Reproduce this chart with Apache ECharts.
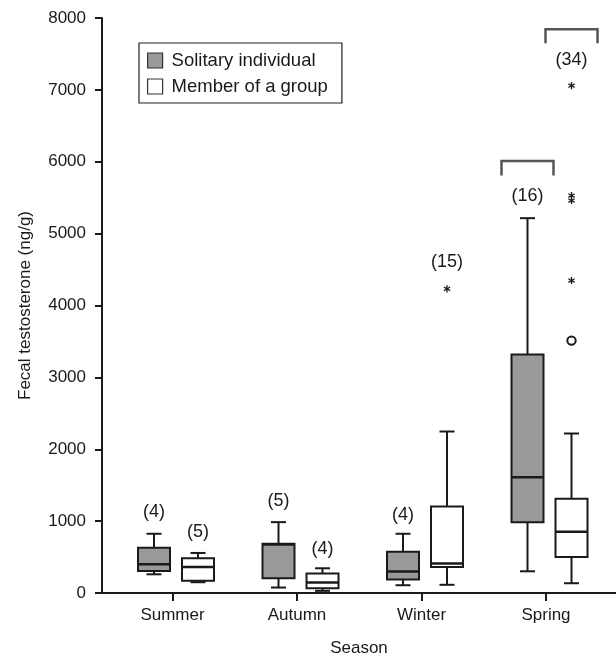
<!DOCTYPE html>
<html>
<head>
<meta charset="utf-8">
<script src="https://cdn.jsdelivr.net/npm/echarts@6/dist/echarts.min.js"></script>
<style>
  html, body { margin: 0; padding: 0; background: #fff; }
  #main { width: 616px; height: 662px; }
</style>
</head>
<body>
<div id="main"></div>
<script>
// season categories
var seasons = ['Summer', 'Autumn', 'Winter', 'Spring'];

// box values: [min, q1, median, q3, max]
var solitaryBox = [[260, 307, 400, 630, 824], [76, 205, 676, 686, 986], [108, 187, 298, 575, 824], [302, 986, 1610, 3318, 5215]];
var groupBox = [[150, 170, 363, 482, 557], [30, 66, 145, 270, 344], [114, 363, 409, 1203, 2247], [136, 501, 852, 1313, 2219]];

// sample sizes and where their labels sit (ng/g)
var solitaryN = ['(4)', '(5)', '(4)', '(16)'];
var solitaryNy = [1130, 1277, 1083, 5525];
var groupN = ['(5)', '(4)', '(15)', '(34)'];
var groupNy = [850, 607, 4610, 7418];

// outliers of the group boxes: [season index, value]
var groupStars = [[2, 4232], [3, 4347], [3, 5460], [3, 5530], [3, 7058]];
var groupCircles = [[3, 3512]];

// brackets above spring: [season index, top, leg end]
var solitaryBracket = [[3, 6010, 5810]];
var groupBracket = [[3, 7843, 7650]];

var yTicks = [0, 1000, 2000, 3000, 4000, 5000, 6000, 7000, 8000];

var SOL_OFF = -18.5, GRP_OFF = 25.5;   // px offsets of the boxes from the season tick
var BOX_W = 32, CAP_W = 15;
var INK = '#1a1a1a';
var FONT = 'Liberation Sans, Arial, Helvetica, sans-serif';

var myChart = echarts.init(document.getElementById('main'));

function boxRender(off, fill) {
    return function (params, api) {
        var i = api.value(0);
        var x = api.coord([i, 0])[0] + off;
        var y = [1, 2, 3, 4, 5].map(function (d) { return api.coord([i, api.value(d)])[1]; });
        var ln = function (x1, y1, x2, y2, w) {
            return { type: 'line', shape: { x1: x1, y1: y1, x2: x2, y2: y2 }, style: { stroke: INK, lineWidth: w || 2 } };
        };
        return {
            type: 'group',
            children: [
                ln(x, y[4], x, y[3]),
                ln(x - CAP_W / 2, y[4], x + CAP_W / 2, y[4]),
                ln(x, y[0], x, y[1]),
                ln(x - CAP_W / 2, y[0], x + CAP_W / 2, y[0]),
                { type: 'rect', shape: { x: x - BOX_W / 2, y: y[3], width: BOX_W, height: y[1] - y[3] },
                  style: { fill: fill, stroke: INK, lineWidth: 2 } },
                ln(x - BOX_W / 2, y[2], x + BOX_W / 2, y[2], 2.5)
            ]
        };
    };
}

function textRender(off) {
    return function (params, api) {
        var p = api.coord([api.value(0), api.value(1)]);
        return { type: 'text', x: p[0] + off, y: p[1],
            style: { text: api.value(2), textAlign: 'center', textVerticalAlign: 'middle', font: '18px ' + FONT, fill: INK } };
    };
}

function starRender(off) {
    return function (params, api) {
        var p = api.coord([api.value(0), api.value(1)]);
        var cx = p[0] + off, cy = p[1], r = 3.6, kids = [];
        for (var k = 0; k < 3; k++) {
            var a = Math.PI / 2 + k * Math.PI / 3;
            kids.push({ type: 'line', shape: { x1: cx - r * Math.cos(a), y1: cy - r * Math.sin(a), x2: cx + r * Math.cos(a), y2: cy + r * Math.sin(a) },
                style: { stroke: INK, lineWidth: 1.3 } });
        }
        return { type: 'group', children: kids };
    };
}

function circleRender(off) {
    return function (params, api) {
        var p = api.coord([api.value(0), api.value(1)]);
        return { type: 'circle', shape: { cx: p[0] + off, cy: p[1], r: 4.2 }, style: { fill: '#fff', stroke: INK, lineWidth: 2 } };
    };
}

function bracketRender(off) {
    return function (params, api) {
        var i = api.value(0);
        var x = api.coord([i, 0])[0] + off;
        var yt = api.coord([i, api.value(1)])[1];
        var yb = api.coord([i, api.value(2)])[1];
        return { type: 'polyline', shape: { points: [[x - 26, yb], [x - 26, yt], [x + 26, yt], [x + 26, yb]] },
            style: { fill: 'none', stroke: '#555', lineWidth: 2.5 } };
    };
}

var withIndex = function (arr) { return arr.map(function (r, i) { return [i].concat(r); }); };
var labelData = function (texts, ys) { return texts.map(function (t, i) { return [i, ys[i], t]; }); };

var option = {
    animation: false,
    backgroundColor: '#fff',
    textStyle: { fontFamily: FONT },
    grid: { left: 102, right: 0, top: 18, bottom: 66 },
    legend: {
        orient: 'vertical', left: 139, top: 43,
        itemWidth: 15, itemHeight: 15, itemGap: 7,
        padding: [8, 14, 7, 8],
        borderColor: '#222', borderWidth: 1.2, backgroundColor: '#fff',
        selectedMode: false,
        textStyle: { fontSize: 18.5, color: INK, fontFamily: FONT, padding: [0, 0, 0, 4] },
        data: [
            { name: 'Solitary individual', icon: 'rect', itemStyle: { color: '#999', borderColor: '#333', borderWidth: 1.2 } },
            { name: 'Member of a group', icon: 'rect', itemStyle: { color: '#fff', borderColor: '#333', borderWidth: 1.2 } }
        ]
    },
    xAxis: {
        type: 'value', min: -0.5663, max: 3.5622,
        name: 'Season', nameLocation: 'middle', nameGap: 47,
        nameTextStyle: { fontSize: 17, color: INK, fontFamily: FONT },
        splitLine: { show: false },
        axisLine: { show: true, onZero: false, lineStyle: { color: INK, width: 2 } },
        axisTick: { show: true, length: 8, customValues: [0, 1, 2, 3], lineStyle: { color: INK, width: 2 } },
        axisLabel: { margin: 14, fontSize: 17, color: INK, fontFamily: FONT, customValues: [0, 1, 2, 3],
            formatter: function (v) { return seasons[Math.round(v)]; } }
    },
    yAxis: {
        type: 'value', min: 0, max: 8000, interval: 1000,
        name: 'Fecal testosterone (ng/g)', nameLocation: 'middle', nameGap: 68,
        nameTextStyle: { fontSize: 17, color: INK, fontFamily: FONT },
        splitLine: { show: false },
        axisLine: { show: true, onZero: false, lineStyle: { color: INK, width: 2 } },
        axisTick: { show: true, length: 7, lineStyle: { color: INK, width: 2 } },
        axisLabel: { margin: 16, fontSize: 17, color: INK, fontFamily: FONT,
            formatter: function (v) { return yTicks.indexOf(v) >= 0 ? String(v) : ''; } }
    },
    series: [
        { name: 'Solitary individual', type: 'custom', renderItem: boxRender(SOL_OFF, '#999'),
          itemStyle: { color: '#999' }, encode: { x: 0, y: [1, 2, 3, 4, 5] }, data: withIndex(solitaryBox) },
        { name: 'Member of a group', type: 'custom', renderItem: boxRender(GRP_OFF, '#fff'),
          itemStyle: { color: '#fff' }, encode: { x: 0, y: [1, 2, 3, 4, 5] }, data: withIndex(groupBox) },
        { type: 'custom', renderItem: textRender(SOL_OFF), encode: { x: 0, y: 1 }, data: labelData(solitaryN, solitaryNy) },
        { type: 'custom', renderItem: textRender(GRP_OFF), encode: { x: 0, y: 1 }, data: labelData(groupN, groupNy) },
        { type: 'custom', renderItem: starRender(GRP_OFF), encode: { x: 0, y: 1 }, data: groupStars },
        { type: 'custom', renderItem: circleRender(GRP_OFF), encode: { x: 0, y: 1 }, data: groupCircles },
        { type: 'custom', renderItem: bracketRender(SOL_OFF), encode: { x: 0, y: [1, 2] }, data: solitaryBracket },
        { type: 'custom', renderItem: bracketRender(GRP_OFF), encode: { x: 0, y: [1, 2] }, data: groupBracket }
    ]
};

myChart.setOption(option);
</script>
</body>
</html>
